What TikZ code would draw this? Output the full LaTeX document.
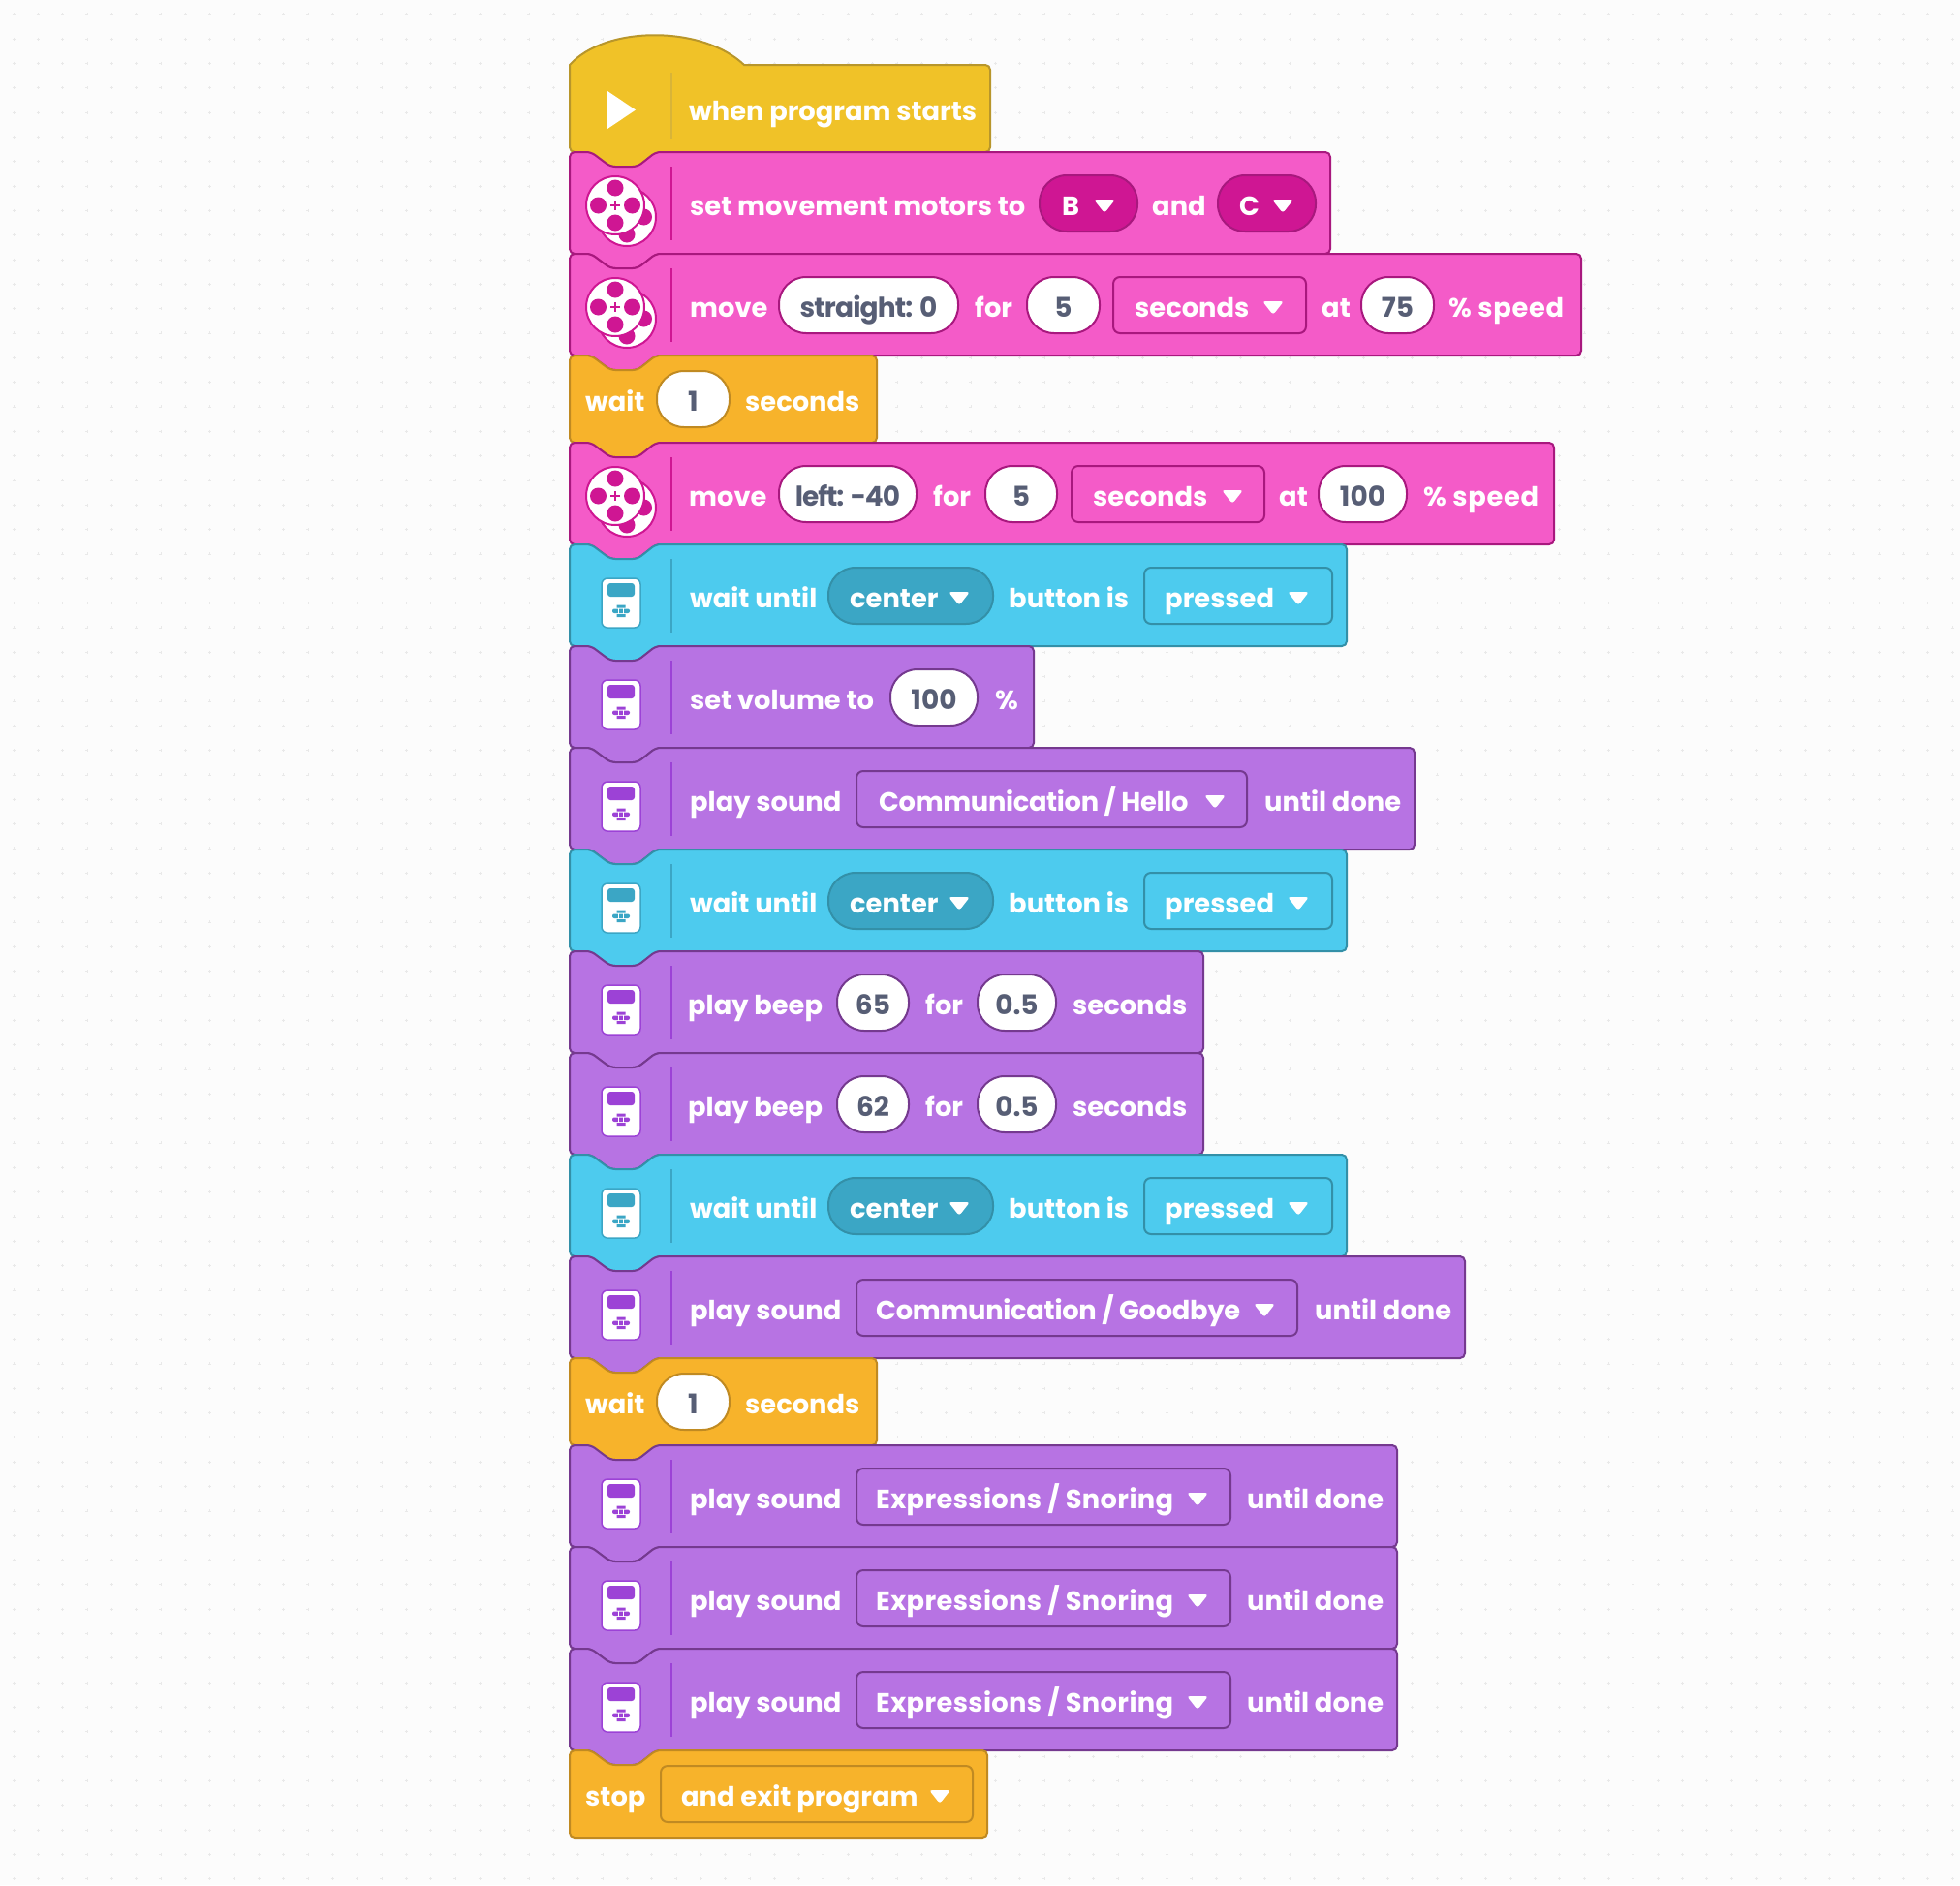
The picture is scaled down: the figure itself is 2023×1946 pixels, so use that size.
\documentclass[tikz,border=0pt]{standalone}
\usepackage{fontspec}
\setmainfont{Poppins}
\definecolor{pagebg}{HTML}{FCFCFC}
\definecolor{griddot}{HTML}{E9E9E9}
\definecolor{valgrey}{HTML}{575E75}
\definecolor{hatfill}{HTML}{F0C228}
\definecolor{hatline}{HTML}{B8962B}
\definecolor{hatdark}{HTML}{D8B438}
\definecolor{motorfill}{HTML}{F45BC8}
\definecolor{motorline}{HTML}{A8187E}
\definecolor{motordark}{HTML}{CF1693}
\definecolor{ctrlfill}{HTML}{F7B32B}
\definecolor{ctrlline}{HTML}{C08A22}
\definecolor{ctrldark}{HTML}{DDA024}
\definecolor{sensorfill}{HTML}{4DCBEE}
\definecolor{sensorline}{HTML}{3390A8}
\definecolor{sensordark}{HTML}{3BA6C5}
\definecolor{soundfill}{HTML}{B773E3}
\definecolor{soundline}{HTML}{75398F}
\definecolor{sounddark}{HTML}{9C42D6}
\tikzset{
  motorrow/.code={\colorlet{rowfill}{motorfill}\colorlet{rowline}{motorline}\colorlet{rowdark}{motordark}},
  ctrlrow/.code={\colorlet{rowfill}{ctrlfill}\colorlet{rowline}{ctrlline}\colorlet{rowdark}{ctrldark}},
  sensorrow/.code={\colorlet{rowfill}{sensorfill}\colorlet{rowline}{sensorline}\colorlet{rowdark}{sensordark}},
  soundrow/.code={\colorlet{rowfill}{soundfill}\colorlet{rowline}{soundline}\colorlet{rowdark}{sounddark}},
  blockshape/.style={fill=rowfill,draw=rowline,line width=2pt,rounded corners=5pt},
  divider/.style={draw=rowdark,line width=2pt},
  labeltext/.style={text=white,anchor=base west,inner sep=0pt,font=\fontsize{27.3}{30}\selectfont\bfseries},
  valtext/.style={text=valgrey,anchor=base,inner sep=0pt,font=\fontsize{28}{30}\selectfont\bfseries},
  valpill/.style={fill=white,draw=rowline,line width=2pt,rounded corners=28pt},
  darkpill/.style={fill=rowdark,draw=rowline,line width=2pt,rounded corners=28pt},
  ddbox/.style={draw=rowline,line width=2pt,rounded corners=7pt}
}
% block with notch on top and tab below
\newcommand{\blockpath}[3]{
  \draw[blockshape] (588,#1+40) -- (588,#1) -- (610,#1) -- (630,#1+15) -- (658,#1+15) -- (677,#1)
    -- (#3,#1) -- (#3,#2) -- (677,#2) -- (658,#2+15) -- (630,#2+15) -- (610,#2) -- (588,#2) -- cycle;
}
\newcommand{\lab}[3]{\node[labeltext] (#1) at (#2,65) {#3};}
\newcommand{\caret}[1]{\fill[white,rounded corners=3pt] (#1-11,49) -- (#1+11,49) -- (#1,63) -- cycle;}
\newcommand{\val}[4]{
  \draw[valpill] (#2,24) rectangle (#3,82);
  \node[valtext] (#1) at ({(#2+#3)/2},65) {#4};
}
\newcommand{\brickicon}{
  \draw[fill=white,draw=rowdark,line width=1.5pt,rounded corners=6pt] (621,35) rectangle (661,86);
  \fill[rowdark,rounded corners=3pt] (627,40) rectangle (655,54);
  \fill[rowdark,rounded corners=2pt] (632,66.5) rectangle (650,71);
  \fill[rowdark] (636.5,62.5) rectangle (645.5,65.5) (636.5,72) rectangle (645.5,75);
  \draw[white,line width=1pt] (638.5,66) -- (638.5,72) (643.5,66) -- (643.5,72);
}
\newcommand{\motorwheel}[2]{
  \draw[fill=white,draw=rowdark,line width=2pt] (#1,#2) circle (30pt);
  \foreach \dx/\dy in {0/-18,0/18,-17.5/0,17.5/0}
    \fill[rowdark] (#1+\dx,#2+\dy) circle (8.5pt);
}
\newcommand{\motoricon}{
  \motorwheel{647}{67}
  \motorwheel{635}{55}
  \draw[rowdark,line width=2.5pt] (630,55) -- (640,55) (635,50) -- (635,60);
}
\newcommand{\buttonrow}[2]{
  \begin{scope}[shift={(0,#1)},sensorrow]
    \blockpath{0}{105}{1390}
    \draw[divider] (693,15) -- (693,91);
    \brickicon
    \lab{until#2}{712}{wait until}
    \draw[darkpill] (855,24) rectangle (1025,82);
    \lab{center#2}{877}{center}
    \caret{990}
    \lab{buttonis#2}{1041}{button is}
    \draw[ddbox] (1181,24) rectangle (1375,82);
    \lab{pressed#2}{1202}{pressed}
    \caret{1340}
  \end{scope}
}
% top, name, right end, box end, text x, caret x, until x, sound
\newcommand{\playrow}[8]{
  \begin{scope}[shift={(0,#1)},soundrow]
    \blockpath{0}{105}{#3}
    \draw[divider] (693,15) -- (693,91);
    \brickicon
    \lab{play#2}{712}{play sound}
    \draw[ddbox] (884,24) rectangle (#4,82);
    \lab{sound#2}{#5}{#8}
    \caret{#6}
    \lab{done#2}{#7}{until done}
  \end{scope}
}
\newcommand{\beeprow}[3]{
  \begin{scope}[shift={(0,#1)},soundrow]
    \blockpath{0}{105}{1242}
    \draw[divider] (693,15) -- (693,91);
    \brickicon
    \lab{beep#2}{710}{play beep}
    \val{note#2}{864}{938}{#3}
    \lab{for#2}{955}{for}
    \val{len#2}{1009}{1090}{0.5}
    \lab{secs#2}{1107}{seconds}
  \end{scope}
}
\newcommand{\waitrow}[2]{
  \begin{scope}[shift={(0,#1)},ctrlrow]
    \blockpath{8}{98}{905}
    \lab{wait#2}{604}{wait}
    \val{delay#2}{678}{753}{1}
    \lab{waitsecs#2}{769}{seconds}
  \end{scope}
}
\begin{document}
\begin{tikzpicture}[x=1pt,y=-1pt]
\useasboundingbox (0,0) rectangle (2023,1946);
\fill[pagebg] (0,0) rectangle (2023,1946);
\draw[griddot,line width=0.7pt] \foreach \i in {0,...,79}{\foreach \j in {0,...,76}{
  ({14+25.33*\i},{14.7+25.33*\j}) +(-1.5,0) -- +(1.5,0) +(0,-1.5) -- +(0,1.5)}};

% hat
\draw[fill=hatfill,draw=hatline,line width=2pt] (588,90) -- (588,67) .. controls (625,26) and (725,26) .. (768,67)
  [rounded corners=5pt] -- (1022,67) -- (1022,157) -- (677,157) -- (658,172) -- (630,172) -- (610,157) -- (588,157) -- cycle;
\draw[hatdark,line width=2pt] (693,75) -- (693,143);
\fill[white] (627,94) -- (656,113.5) -- (627,133) -- cycle;
\node[labeltext] (starts) at (711,124) {when program starts};

\begin{scope}[shift={(0,157)},motorrow]
  \blockpath{0}{105}{1373}
  \draw[divider] (693,15) -- (693,91);
  \motoricon
  \lab{setmotors}{712}{set movement motors to}
  \draw[darkpill] (1073,24) rectangle (1174,82);
  \lab{portB}{1096}{B}
  \caret{1140}
  \lab{portand}{1189}{and}
  \draw[darkpill] (1257,24) rectangle (1358,82);
  \lab{portC}{1279}{C}
  \caret{1324}
\end{scope}

\begin{scope}[shift={(0,262)},motorrow]
  \blockpath{0}{105}{1632}
  \draw[divider] (693,15) -- (693,91);
  \motoricon
  \lab{moveA}{712}{move}
  \val{straight}{804}{989}{\addfontfeatures{LetterSpace=-3}straight: 0}
  \lab{forA}{1006}{for}
  \val{timeA}{1060}{1135}{5}
  \draw[ddbox] (1149,24) rectangle (1348,82);
  \lab{unitA}{1171}{seconds}
  \caret{1314}
  \lab{atA}{1364}{at}
  \val{speedA}{1405}{1480}{75}
  \lab{pctA}{1495}{\addfontfeatures{LetterSpace=2.6}\% speed}
\end{scope}

\waitrow{359}{A}

\begin{scope}[shift={(0,457)},motorrow]
  \blockpath{0}{105}{1604}
  \draw[divider] (693,15) -- (693,91);
  \motoricon
  \lab{moveB}{711}{move}
  \val{left}{804}{946}{\addfontfeatures{LetterSpace=-4}left: -40}
  \lab{forB}{963}{for}
  \val{timeB}{1017}{1091}{5}
  \draw[ddbox] (1106,24) rectangle (1305,82);
  \lab{unitB}{1128}{seconds}
  \caret{1272}
  \lab{atB}{1320}{at}
  \val{speedB}{1361}{1452}{100}
  \lab{pctB}{1469}{\addfontfeatures{LetterSpace=2.6}\% speed}
\end{scope}

\buttonrow{562}{A}

\begin{scope}[shift={(0,667)},soundrow]
  \blockpath{0}{105}{1067}
  \draw[divider] (693,15) -- (693,91);
  \brickicon
  \lab{volume}{712}{set volume to}
  \val{level}{919}{1009}{100}
  \lab{volpct}{1027}{\%}
\end{scope}

\playrow{772}{A}{1460}{1287}{907}{1254}{1305}{\addfontfeatures{LetterSpace=-1.2}Communication / Hello}
\buttonrow{877}{B}
\beeprow{982}{A}{65}
\beeprow{1087}{B}{62}
\buttonrow{1192}{C}
\playrow{1297}{B}{1512}{1339}{904}{1305}{1357}{\addfontfeatures{LetterSpace=-1}Communication / Goodbye}
\waitrow{1394}{B}
\playrow{1492}{C}{1442}{1270}{904}{1236}{1287}{\addfontfeatures{LetterSpace=1.3}Expressions / Snoring}
\playrow{1597}{D}{1442}{1270}{904}{1236}{1287}{\addfontfeatures{LetterSpace=1.3}Expressions / Snoring}
\playrow{1702}{E}{1442}{1270}{904}{1236}{1287}{\addfontfeatures{LetterSpace=1.3}Expressions / Snoring}

\begin{scope}[shift={(0,1799)},ctrlrow]
  \draw[blockshape] (588,48) -- (588,8) -- (610,8) -- (630,23) -- (658,23) -- (677,8)
    -- (1019,8) -- (1019,98) -- (588,98) -- cycle;
  \lab{stop}{604}{stop}
  \draw[ddbox] (682,24) rectangle (1004,82);
  \lab{exit}{703}{and exit program}
  \caret{970}
\end{scope}
\end{tikzpicture}
\end{document}
